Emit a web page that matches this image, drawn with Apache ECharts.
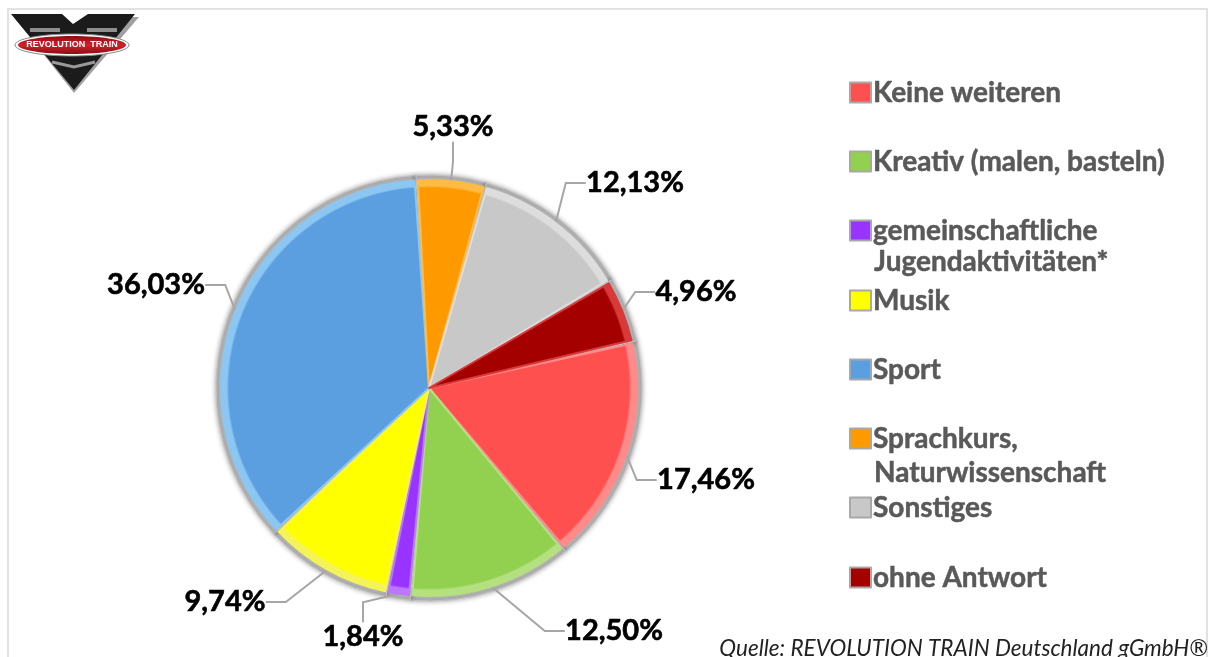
<!DOCTYPE html>
<html><head><meta charset="utf-8">
<style>html,body{margin:0;padding:0;background:#fff;overflow:hidden}#c{width:1213px;height:657px}</style>
<script src="https://cdn.jsdelivr.net/npm/echarts@6/dist/echarts.min.js"></script>
</head><body><div id="c"></div>
<script>
const categories = ['Keine weiteren','Kreativ (malen, basteln)','gemeinschaftliche\nJugendaktivitäten*','Musik','Sport','Sprachkurs,\nNaturwissenschaft','Sonstiges','ohne Antwort'];
const values = [17.46,12.50,1.84,9.74,36.03,5.33,12.13,4.96];
const colors = ['#ff5050','#92d050','#9933ff','#ffff00','#5b9fe0','#ff9900','#c8c8c8','#a50000'];
const tints = ['#ff8a8a','#b5e07f','#bb77ff','#f4f45a','#8cc6f2','#ffbb44','#dddddd','#d83a3a'];
const labelAnchors = [[706,480],[614,631],[363,637],[225,602],[156,285],[453,127],[635,183],[696,292]];
const legendTops = [75,144,213,283,352,421,490,560];
const secondLineGaps = {2:32,5:35};

const chart = echarts.init(document.getElementById('c'));
const center = [429,388];
const fmt = v => v.toFixed(2).replace('.',',') + '%';
const legendText = {fontFamily:'Lato',fontWeight:'bold',fontSize:28,color:'#595959',textBorderColor:'#595959',textBorderWidth:0.5};
const legends = categories.map((name,i)=>({
  data:[{name,itemStyle:{color:colors[i],borderColor:'#a8a8a8',borderWidth:2}}],
  left:849, top:legendTops[i], orient:'vertical', padding:0,
  itemWidth:21, itemHeight:20, itemGap:0, icon:'rect', selectedMode:false,
  formatter:n=>n.split('\n')[0],
  textStyle:Object.assign({padding:[0,0,0,-3],lineHeight:35},legendText)
}));
const secondLines = categories.map((name,i)=>({name,i})).filter(o=>o.name.includes('\n')).map(o=>({
  type:'text',z:10,
  style:{x:874,y:legendTops[o.i]+17+secondLineGaps[o.i],text:o.name.split('\n')[1],verticalAlign:'middle',fill:'#595959',
    stroke:'#595959',lineWidth:0.5,font:'bold 28px Lato'}
}));
const bevel = i => new echarts.graphic.RadialGradient(center[0],center[1],208,[
  {offset:0,color:colors[i]},{offset:0.962,color:colors[i]},{offset:0.972,color:tints[i]},{offset:1,color:tints[i]}
],true);
chart.setOption({
  animation:false,
  backgroundColor:'#fff',
  color:colors,
  legend:legends,
  graphic:[
    {type:'rect',shape:{x:8,y:9,width:1199,height:660},style:{fill:'none',stroke:'#e2e2e2',lineWidth:2},z:0},
    {type:'polygon',shape:{points:[[14,17],[74,93],[139,17],[92,17],[76,28],[60,17]]},style:{fill:'#a0a0a0'},z:5},
    {type:'polygon',shape:{points:[[11,14],[62,14],[73,24],[88,14],[135,14],[74,90]]},style:{fill:'#1b1b1b'},z:6},
    {type:'rect',shape:{x:30,y:28,width:30,height:4},style:{fill:'#8e8e8e'},z:7},
    {type:'rect',shape:{x:87,y:28,width:30,height:4},style:{fill:'#8e8e8e'},z:7},
    {type:'polyline',shape:{points:[[52,62],[74,67],[95,62]]},style:{stroke:'#999',lineWidth:3,fill:'none'},z:7},
    {type:'ellipse',shape:{cx:72,cy:45,rx:57,ry:11},style:{fill:'#fff',stroke:'#888',lineWidth:1},z:8},
    {type:'ellipse',shape:{cx:72,cy:45,rx:54,ry:9},style:{fill:new echarts.graphic.LinearGradient(0,0,0,1,[{offset:0,color:'#8a0d14'},{offset:0.5,color:'#d2202a'},{offset:1,color:'#8a0d14'}])},z:9},
    {type:'text',style:{x:72,y:45,text:'REVOLUTION  TRAIN',align:'center',verticalAlign:'middle',fill:'#fff',font:'bold 9px "Liberation Sans"'},z:10},
    {type:'text',style:{x:1208,y:649,text:'Quelle: REVOLUTION TRAIN Deutschland gGmbH®',align:'right',verticalAlign:'middle',fill:'#222',font:'italic 22.5px Lato'},z:10},
    ...secondLines
  ],
  series:[
    {type:'pie',center,radius:[0,213],startAngle:12.8,silent:true,z:1,clockwise:true,
     label:{show:false},labelLine:{show:false},legendHoverLink:false,
     itemStyle:{color:'#b4b4b4',borderColor:'#c4c4c4',borderWidth:1,shadowBlur:5,shadowColor:'rgba(0,0,0,0.35)'},
     data:values.map((v,i)=>({value:v,name:categories[i]}))},
    {type:'pie',center,radius:[0,208],startAngle:12.8,z:2,clockwise:true,padAngle:0.9,
     avoidLabelOverlap:false,
     itemStyle:{borderWidth:0},
     emphasis:{disabled:true},
     label:{show:true,position:'outside',formatter:p=>fmt(p.value),fontFamily:'Lato',fontWeight:'bold',fontSize:29,color:'#000',textBorderColor:'#000',textBorderWidth:0.6},
     labelLine:{show:true,length:20,length2:20,lineStyle:{color:'#a6a6a6',width:2}},
     labelLayout:p=>{const a=labelAnchors[p.dataIndex];return {x:a[0],y:a[1],align:'center',verticalAlign:'middle'};},
     data:values.map((v,i)=>({value:v,name:categories[i],itemStyle:{color:bevel(i),borderColor:tints[i],borderWidth:2}}))}
  ]
});
</script></body></html>
